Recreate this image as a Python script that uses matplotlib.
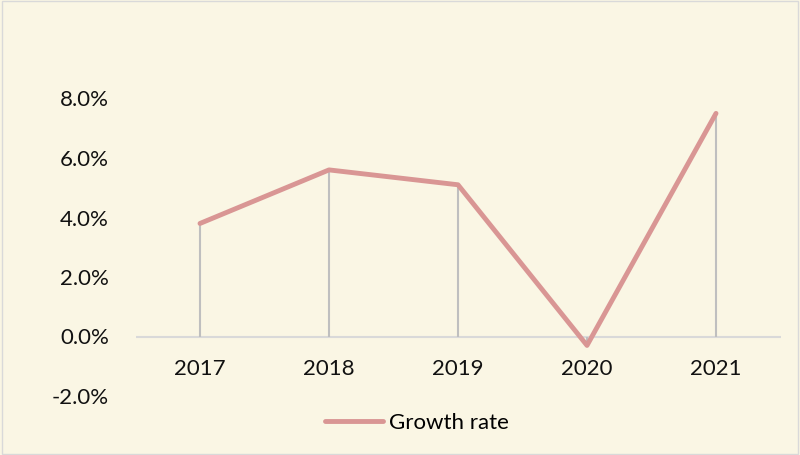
import matplotlib
matplotlib.use('Agg')
import matplotlib.pyplot as plt
from matplotlib.ticker import FuncFormatter

years  = ["2017", "2018", "2019", "2020", "2021"]
growth = [3.8, 5.6, 5.1, -0.3, 7.5]   # percent

BG     = "#FAF6E4"
LINE_C = "#D99694"
DROP_C = "#BFBFBF"
AXIS_C = "#D9D9D9"

plt.rcParams['font.family'] = ['Lato', 'DejaVu Sans']

fig = plt.figure(figsize=(8, 4.55), dpi=100, facecolor=BG)
ax = fig.add_axes([135.5 / 800, 1 - 396 / 455, 645 / 800, (396 - 39) / 455])
ax.set_facecolor(BG)

x = list(range(len(years)))
ax.vlines(x, 0, growth, color=DROP_C, linewidth=1.5, zorder=2)
ax.axhline(0, color=AXIS_C, linewidth=1.5, zorder=1)
line, = ax.plot(x, growth, color=LINE_C, linewidth=3.5, solid_capstyle='round',
                solid_joinstyle='round', zorder=3, label="Growth rate")

ax.set_xlim(-0.5, len(years) - 0.5)
ax.set_ylim(-2, 10)
ax.set_yticks([-2, 0, 2, 4, 6, 8])
ax.yaxis.set_major_formatter(FuncFormatter(lambda v, _: f"{v:.1f}%"))
ax.tick_params(axis='y', length=0, pad=19, labelsize=16, colors="#111111")
ax.set_xticks([])
for xi, lab in zip(x, years):
    ax.text(xi, -1.1, lab, ha="center", va="center", fontsize=16, color="#111111")

for s in ax.spines.values():
    s.set_visible(False)

fig.legend(handles=[line], labels=["Growth rate"], loc="center",
           bbox_to_anchor=(0.521, 1 - 423 / 455), frameon=False, fontsize=16,
           handlelength=2.6, handletextpad=0.27)

# light frame round the chart area
fig.patches.append(plt.Rectangle((0.003, 0.003), 0.994, 0.994, transform=fig.transFigure,
                                 fill=False, edgecolor="#D9D9D9", linewidth=1))

fig.savefig("out.png", dpi=100, facecolor=BG)
